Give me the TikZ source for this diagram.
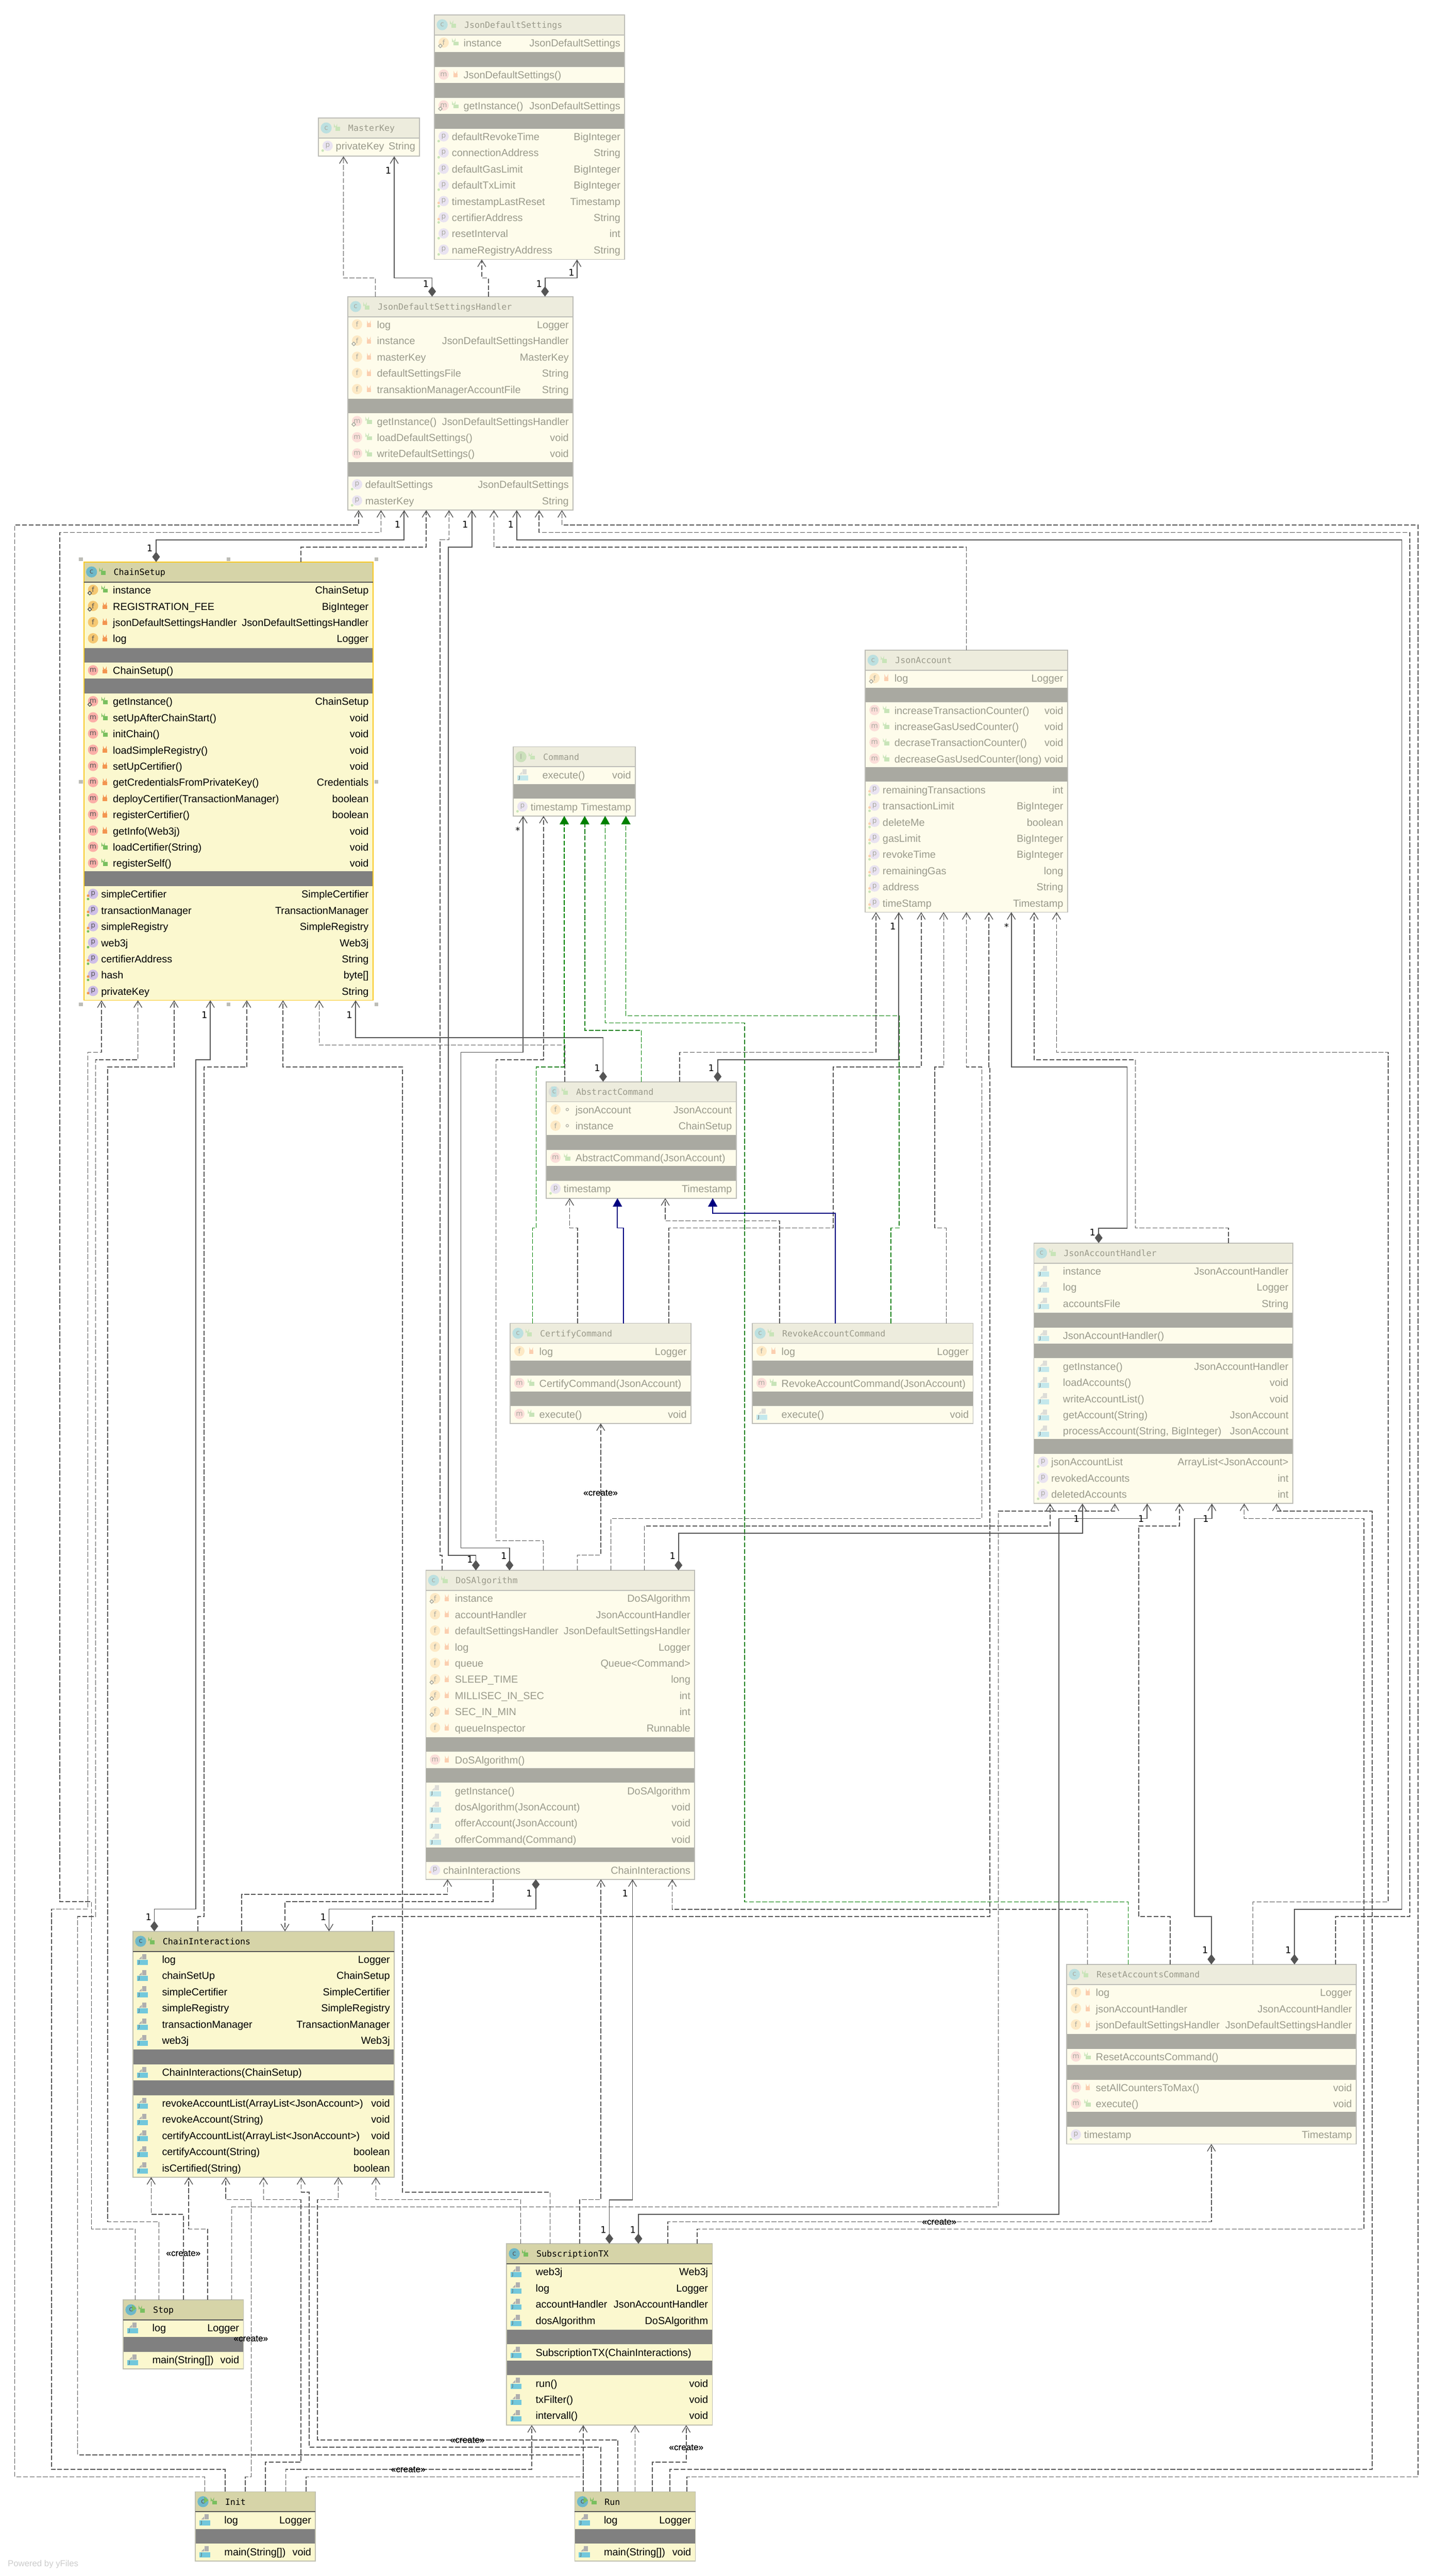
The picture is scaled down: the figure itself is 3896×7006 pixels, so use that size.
\documentclass[tikz,border=0pt]{standalone}
\usepackage{fontspec}
\setmainfont{Liberation Sans}
\newfontfamily\titlefont{DejaVu Sans Mono}
\newfontfamily\labelfont{DejaVu Sans}
\newfontfamily\createfont[FakeBold=0.4]{Liberation Sans}
\usetikzlibrary{arrows.meta}
\definecolor{fRow}{HTML}{FEFCEB}\definecolor{fHead}{HTML}{EDECDD}\definecolor{fSep}{HTML}{A9A9A1}\definecolor{fText}{HTML}{9A9A8B}\definecolor{fBorder}{HTML}{BDBDB7}\definecolor{fLine}{HTML}{BDBDB7}
\definecolor{fC}{HTML}{BCE0E0}\definecolor{fF}{HTML}{FDE9C5}\definecolor{fM}{HTML}{FBDED9}\definecolor{fP}{HTML}{E9E3F1}\definecolor{fI}{HTML}{CBE0BB}\definecolor{fOpen}{HTML}{C8E4B8}\definecolor{fLock}{HTML}{FBCFB0}\definecolor{fGlyph}{HTML}{AAAAA0}\definecolor{fJbar}{HTML}{C4E8EC}\definecolor{fJtop}{HTML}{DDDDD8}
\definecolor{uRow}{HTML}{FBF8CF}\definecolor{uHead}{HTML}{D6D4A8}\definecolor{uSep}{HTML}{808080}\definecolor{uText}{HTML}{000000}\definecolor{uBorder}{HTML}{BFBFAF}\definecolor{uLine}{HTML}{555555}
\definecolor{uC}{HTML}{6DB8C9}\definecolor{uF}{HTML}{F5C872}\definecolor{uM}{HTML}{FBAFA8}\definecolor{uP}{HTML}{CFBFE8}\definecolor{uI}{HTML}{A8D08D}\definecolor{uOpen}{HTML}{79BF5F}\definecolor{uLock}{HTML}{F39550}\definecolor{uGlyph}{HTML}{555555}\definecolor{uJbar}{HTML}{72C8DC}\definecolor{uJtop}{HTML}{AFAFAF}
\colorlet{sRow}{uRow}\colorlet{sHead}{uHead}\colorlet{sSep}{uSep}\colorlet{sText}{uText}\definecolor{sBorder}{HTML}{F9C81E}\colorlet{sLine}{uLine}\colorlet{sC}{uC}\colorlet{sF}{uF}\colorlet{sM}{uM}\colorlet{sP}{uP}\colorlet{sI}{uI}\colorlet{sOpen}{uOpen}\colorlet{sLock}{uLock}\colorlet{sGlyph}{uGlyph}\colorlet{sJbar}{uJbar}\colorlet{sJtop}{uJtop}
\definecolor{edgeGray}{HTML}{555555}\definecolor{realGreen}{HTML}{008000}\definecolor{genBlue}{HTML}{000080}
\newcommand\usecols[1]{\colorlet{cRow}{#1Row}\colorlet{cHead}{#1Head}\colorlet{cSep}{#1Sep}\colorlet{cText}{#1Text}\colorlet{cBorder}{#1Border}\colorlet{cLine}{#1Line}\colorlet{icc}{#1C}\colorlet{icf}{#1F}\colorlet{icm}{#1M}\colorlet{icp}{#1P}\colorlet{icI}{#1I}\colorlet{cOpen}{#1Open}\colorlet{cLock}{#1Lock}\colorlet{cGlyph}{#1Glyph}\colorlet{cJbar}{#1Jbar}\colorlet{cJtop}{#1Jtop}}
\newdimen\cy \newcount\nc
\makeatletter\def\yv{\strip@pt\cy}\makeatother
\tikzset{an/.code={\global\advance\nc by 1\relax\tikzset{name=n\the\nc}},
 classnode/.style={anchor=north west,draw=cBorder,fill=cRow,line width=2.5pt,inner sep=0pt,outer sep=0pt},
 rowtext/.style={an,inner sep=0pt,text=cText,font=\fontsize{27.8}{32}\selectfont},
 titletext/.style={an,inner sep=0pt,anchor=base west,text=cText,font=\titlefont\fontsize{23.3}{28}\selectfont},
 glyph/.style={an,inner sep=0pt,text=cGlyph,font=\labelfont\fontsize{19}{22}\selectfont},
 opentip/.style={-{Straight Barb[length=18pt,width=22pt,line width=2pt]}},
 dep/.style={line width=2.2pt,draw=edgeGray,dash pattern=on 13pt off 5pt,opentip},
 comp/.style={line width=2.5pt,draw=edgeGray,{Diamond[length=28pt,width=21pt,fill=edgeGray]}-{Straight Barb[length=18pt,width=22pt,line width=2pt]}},
 real/.style={line width=2.2pt,draw=realGreen,dash pattern=on 13pt off 5pt,-{Triangle[length=23pt,width=25pt,fill=realGreen]}},
 gen/.style={line width=2.2pt,draw=genBlue,-{Triangle[length=23pt,width=25pt,fill=genBlue]}},
 lab/.style={an,inner sep=0pt,text=black,font=\labelfont\fontsize{25}{28}\selectfont},
 crt/.style={an,inner sep=0pt,text=black,font=\createfont\fontsize{24}{28}\selectfont}}
\newcommand\ptN[2]{(#1,0 |- #2.north)}
\newcommand\ptS[2]{(#1,0 |- #2.south)}
% icons
\newcommand\lockic[3]{% vis x y
 \if#1o\fill[cOpen] ({#2-5},{#3-3}) rectangle ({#2+8},{#3+8});\draw[cOpen,line width=2pt] ({#2-8},{#3-1}) -- ({#2-8},{#3-7}) arc[start angle=180,end angle=0,radius=3.5] -- ({#2-1},{#3-4});\fi
 \if#1l\fill[cLock] ({#2-6},{#3-2}) rectangle ({#2+6},{#3+8});\draw[cLock,line width=2pt] ({#2-4},{#3-2}) -- ({#2-4},{#3-6}) arc[start angle=180,end angle=0,radius=4] -- ({#2+4},{#3-2});\fi
 \if#1d\draw[cGlyph,line width=1.6pt] (#2,#3) circle[radius=3.5];\fi}
\newcommand\jic[2]{% x y
 \fill[cJbar] ({#1-15},{#2+2}) rectangle ({#1+15},{#2+16});
 \fill[cJtop] ({#1-1},{#2-14}) rectangle ({#1+10},{#2});
 \fill[cJtop] ({#1-10},{#2}) -- ({#1-2},{#2-8}) -- ({#1-2},{#2}) -- cycle;
 \node[an,inner sep=0pt,text=uGlyph,font=\labelfont\fontsize{12}{14}\selectfont] at ({#1-9},{#2+9}) {J};}
\newcommand\rowx[5]{%
 \def\rc{\yv+21}\def\nx{79}%
 \if#1J\jic{\cL+26}{\yv+21}\else
  \fill[ic#1] ({\cL+25},{\rc}) circle[radius=14];
  \node[glyph] at ({\cL+25},{\rc}) {#1};
  \if#1p\def\nx{47}\else\lockic{#2}{\cL+57}{\rc}\fi
 \fi
 \if#3s\draw[cGlyph,line width=2pt,fill=cRow] ({\cL+16},{\rc+4}) -- ({\cL+21},{\rc+9}) -- ({\cL+16},{\rc+14}) -- ({\cL+11},{\rc+9}) -- cycle;\fi
 \if#3g\fill[cOpen] ({\cL+11.5},{\rc+13}) circle[radius=3.5];\fi
 \if#3r\fill[cLock] ({\cL+11.5},{\rc+6}) circle[radius=3.5];\fi
 \if#3b\fill[cLock] ({\cL+11.5},{\rc+5}) circle[radius=3.5];\fill[cOpen] ({\cL+11.5},{\rc+14}) circle[radius=3.5];\fi
 \node[rowtext,anchor=base west] at ({\cL+\nx},{\yv+32}) {#4};
 \node[rowtext,anchor=base east] at ({\cR-11.5},{\yv+32}) {#5};
 \global\advance\cy by 44pt\relax}
\newcommand\sep[1]{\global\advance\cy by #1pt\relax
 \fill[cSep] ({\cL+1.25},{\yv}) rectangle ({\cR-1.25},{\yv+40});
 \global\advance\cy by 40pt\relax}
\newcommand\classbox[8]{% name L R T B colors kind title
 \def\cL{#2}\def\cR{#3}\usecols{#6}%
 \global\cy=#4pt\relax
 \node[classnode,minimum width={#3-#2},minimum height={#5-#4}] (#1) at (#2,#4) {};
 \fill[cHead] ({#2+1.25},{#4+1.25}) rectangle ({#3-1.25},{#4+54.5});
 \draw[cLine,line width=2.5pt] (#2,{#4+54.5}) -- (#3,{#4+54.5});
 \if#7a\fill[cJtop] ({#2+21},{#4+27}) circle[radius=15];\fill[icc] ({#2+14},{#4+13}) rectangle ({#2+28},{#4+41});
 \else\if#7I\fill[icI] ({#2+21},{#4+27}) circle[radius=15];\else\fill[icc] ({#2+21},{#4+27}) circle[radius=15];\fi\fi
 \if#7r\fill[uOpen] ({#2+24},{#4+14}) -- ({#2+36},{#4+23}) -- ({#2+24},{#4+32}) -- cycle;\fi
 \node[glyph] at ({#2+21},{#4+27}) {\if#7II\else c\fi};
 \lockic{o}{#2+51}{#4+27}
 \node[titletext] at ({#2+81},{#4+36}) {#8};
 \global\advance\cy by 54.5pt\relax}
\begin{document}
\begin{tikzpicture}[x=1pt,y=-1pt]
\useasboundingbox[fill=white] (0,0) rectangle (3896,7006);
% ---------- classes
\classbox{MK}{866}{1141}{321}{425}{f}{c}{MasterKey}
\rowx pog{privateKey}{String}
\classbox{JDS}{1181.4}{1698.6}{40.3}{705.6}{f}{c}{JsonDefaultSettings}
\rowx fos{instance}{JsonDefaultSettings}\sep{3}
\rowx mln{JsonDefaultSettings()}{}\sep{0}
\rowx mos{getInstance()}{JsonDefaultSettings}\sep{0}
\rowx png{defaultRevokeTime}{BigInteger}
\rowx png{connectionAddress}{String}
\rowx png{defaultGasLimit}{BigInteger}
\rowx png{defaultTxLimit}{BigInteger}
\rowx pnb{timestampLastReset}{Timestamp}
\rowx pnb{certifierAddress}{String}
\rowx png{resetInterval}{int}
\rowx png{nameRegistryAddress}{String}
\classbox{JDSH}{946}{1558.3}{806.7}{1387.3}{f}{c}{JsonDefaultSettingsHandler}
\rowx fln{log}{Logger}
\rowx fls{instance}{JsonDefaultSettingsHandler}
\rowx fln{masterKey}{MasterKey}
\rowx fln{defaultSettingsFile}{String}
\rowx fln{transaktionManagerAccountFile}{String}\sep{3}
\rowx mos{getInstance()}{JsonDefaultSettingsHandler}
\rowx mon{loadDefaultSettings()}{void}
\rowx mon{writeDefaultSettings()}{void}\sep{0}
\rowx png{defaultSettings}{JsonDefaultSettings}
\rowx png{masterKey}{String}
\classbox{CS}{228}{1014}{1528.5}{2720.4}{s}{c}{ChainSetup}
\rowx fos{instance}{ChainSetup}
\rowx fls{REGISTRATION\_FEE}{BigInteger}
\rowx fln{jsonDefaultSettingsHandler}{JsonDefaultSettingsHandler}
\rowx fln{log}{Logger}\sep{3}
\rowx mln{ChainSetup()}{}\sep{0}
\rowx mos{getInstance()}{ChainSetup}
\rowx mon{setUpAfterChainStart()}{void}
\rowx mon{initChain()}{void}
\rowx mln{loadSimpleRegistry()}{void}
\rowx mln{setUpCertifier()}{void}
\rowx mln{getCredentialsFromPrivateKey()}{Credentials}
\rowx mln{deployCertifier(TransactionManager)}{boolean}
\rowx mln{registerCertifier()}{boolean}
\rowx mln{getInfo(Web3j)}{void}
\rowx mon{loadCertifier(String)}{void}
\rowx mon{registerSelf()}{void}\sep{0}
\rowx pnb{simpleCertifier}{SimpleCertifier}
\rowx pnb{transactionManager}{TransactionManager}
\rowx pnb{simpleRegistry}{SimpleRegistry}
\rowx png{web3j}{Web3j}
\rowx pnb{certifierAddress}{String}
\rowx pnb{hash}{byte[]}
\rowx pnr{privateKey}{String}
\foreach \hx/\hy in {220/1521,622/1521,1024/1521,220/2126,1024/2126,220/2731,622/2731,1024/2731}{\fill[fBorder] ({\hx-5},{\hy-5}) rectangle ({\hx+5},{\hy+5});}
\classbox{Cmd}{1395.7}{1727.6}{2031}{2219}{f}{I}{Command}
\rowx Jnn{execute()}{void}\sep{3}
\rowx png{timestamp}{Timestamp}
\classbox{JA}{2353}{2903}{1768.6}{2480.7}{f}{c}{JsonAccount}
\rowx fls{log}{Logger}\sep{3}
\rowx mon{increaseTransactionCounter()}{void}
\rowx mon{increaseGasUsedCounter()}{void}
\rowx mon{decraseTransactionCounter()}{void}
\rowx mon{decreaseGasUsedCounter(long)}{void}\sep{0}
\rowx pnb{remainingTransactions}{int}
\rowx pnb{transactionLimit}{BigInteger}
\rowx pnb{deleteMe}{boolean}
\rowx pnb{gasLimit}{BigInteger}
\rowx pnb{revokeTime}{BigInteger}
\rowx pnb{remainingGas}{long}
\rowx pnb{address}{String}
\rowx pnb{timeStamp}{Timestamp}
\classbox{AC}{1485.6}{2002}{2942}{3258.6}{f}{a}{AbstractCommand}
\rowx fdn{jsonAccount}{JsonAccount}
\rowx fdn{instance}{ChainSetup}\sep{3}
\rowx mon{AbstractCommand(JsonAccount)}{}\sep{0}
\rowx png{timestamp}{Timestamp}
\classbox{CC}{1387.4}{1879}{3599}{3871}{f}{c}{CertifyCommand}
\rowx fln{log}{Logger}\sep{3}
\rowx mon{CertifyCommand(JsonAccount)}{}\sep{0}
\rowx mon{execute()}{void}
\classbox{RAC}{2046}{2646}{3599}{3871}{f}{c}{RevokeAccountCommand}
\rowx fln{log}{Logger}\sep{3}
\rowx mon{RevokeAccountCommand(JsonAccount)}{}\sep{0}
\rowx Jnn{execute()}{void}
\classbox{JAH}{2811.4}{3515.4}{3380.7}{4089}{f}{c}{JsonAccountHandler}
\rowx Jnn{instance}{JsonAccountHandler}
\rowx Jnn{log}{Logger}
\rowx Jnn{accountsFile}{String}\sep{3}
\rowx Jnn{JsonAccountHandler()}{}\sep{0}
\rowx Jnn{getInstance()}{JsonAccountHandler}
\rowx Jnn{loadAccounts()}{void}
\rowx Jnn{writeAccountList()}{void}
\rowx Jnn{getAccount(String)}{JsonAccount}
\rowx Jnn{processAccount(String, BigInteger)}{JsonAccount}\sep{0}
\rowx png{jsonAccountList}{ArrayList<JsonAccount>}
\rowx png{revokedAccounts}{int}
\rowx png{deletedAccounts}{int}
\classbox{DoS}{1158}{1889}{4271}{5111}{f}{c}{DoSAlgorithm}
\rowx fls{instance}{DoSAlgorithm}
\rowx fln{accountHandler}{JsonAccountHandler}
\rowx fln{defaultSettingsHandler}{JsonDefaultSettingsHandler}
\rowx fln{log}{Logger}
\rowx fln{queue}{Queue<Command>}
\rowx fls{SLEEP\_TIME}{long}
\rowx fls{MILLISEC\_IN\_SEC}{int}
\rowx fls{SEC\_IN\_MIN}{int}
\rowx fln{queueInspector}{Runnable}\sep{3}
\rowx mln{DoSAlgorithm()}{}\sep{0}
\rowx Jnn{getInstance()}{DoSAlgorithm}
\rowx Jnn{dosAlgorithm(JsonAccount)}{void}
\rowx Jnn{offerAccount(JsonAccount)}{void}
\rowx Jnn{offerCommand(Command)}{void}\sep{0}
\rowx pnr{chainInteractions}{ChainInteractions}
\classbox{CI}{361.5}{1072}{5252.7}{5921}{u}{c}{ChainInteractions}
\rowx Jnn{log}{Logger}
\rowx Jnn{chainSetUp}{ChainSetup}
\rowx Jnn{simpleCertifier}{SimpleCertifier}
\rowx Jnn{simpleRegistry}{SimpleRegistry}
\rowx Jnn{transactionManager}{TransactionManager}
\rowx Jnn{web3j}{Web3j}\sep{3}
\rowx Jnn{ChainInteractions(ChainSetup)}{}\sep{0}
\rowx Jnn{revokeAccountList(ArrayList<JsonAccount>)}{void}
\rowx Jnn{revokeAccount(String)}{void}
\rowx Jnn{certifyAccountList(ArrayList<JsonAccount>)}{void}
\rowx Jnn{certifyAccount(String)}{boolean}
\rowx Jnn{isCertified(String)}{boolean}
\classbox{Stop}{335}{662}{6254.8}{6443}{u}{r}{Stop}
\rowx Jnn{log}{Logger}\sep{3}
\rowx Jnn{main(String[])}{void}
\classbox{Init}{531}{858}{6776.8}{6965}{u}{r}{Init}
\rowx Jnn{log}{Logger}\sep{3}
\rowx Jnn{main(String[])}{void}
\classbox{Run}{1563}{1891}{6776.8}{6965}{u}{r}{Run}
\rowx Jnn{log}{Logger}\sep{3}
\rowx Jnn{main(String[])}{void}
\classbox{Sub}{1377.5}{1937}{6102.4}{6595.5}{u}{c}{SubscriptionTX}
\rowx Jnn{web3j}{Web3j}
\rowx Jnn{log}{Logger}
\rowx Jnn{accountHandler}{JsonAccountHandler}
\rowx Jnn{dosAlgorithm}{DoSAlgorithm}\sep{3}
\rowx Jnn{SubscriptionTX(ChainInteractions)}{}\sep{0}
\rowx Jnn{run()}{void}
\rowx Jnn{txFilter()}{void}
\rowx Jnn{intervall()}{void}
\classbox{RC}{2900.7}{3688}{5342.6}{5831}{f}{c}{ResetAccountsCommand}
\rowx fln{log}{Logger}
\rowx fln{jsonAccountHandler}{JsonAccountHandler}
\rowx fln{jsonDefaultSettingsHandler}{JsonDefaultSettingsHandler}\sep{3}
\rowx mon{ResetAccountsCommand()}{}\sep{0}
\rowx mln{setAllCountersToMax()}{void}
\rowx mon{execute()}{void}\sep{0}
\rowx png{timestamp}{Timestamp}
% ---------- connectors
\draw[dep] \ptN{1021}{JDSH} |- (934,756) -- \ptS{934}{MK};
\draw[comp] \ptN{1175}{JDSH} |- (1072,756) -- \ptS{1072}{MK};
\draw[dep] \ptN{1328}{JDSH} |- (1310,756) -- \ptS{1310}{JDS};
\draw[comp] \ptN{1482}{JDSH} |- (1569,756) -- \ptS{1569}{JDS};
\draw[dep] \ptN{557}{Init} |- (40,6736) |- (975,1428) -- \ptS{975}{JDSH};
\draw[dep] \ptN{368}{Stop} |- (249,6062) |- (162.5,5172) |- (1036,1448) -- \ptS{1036}{JDSH};
\draw[comp] \ptN{424.5}{CS} |- (1099,1468) -- \ptS{1099}{JDSH};
\draw[dep] \ptN{818.4}{CS} |- (1159,1488) -- \ptS{1159}{JDSH};
\draw[dep] \ptN{1202}{DoS} |- (1197,4230) |- (1221,1468) -- \ptS{1221}{JDSH};
\draw[comp] \ptN{1294}{DoS} |- (1219,4230) |- (1283,1488) -- \ptS{1283}{JDSH};
\draw[dep] \ptN{2628}{JA} |- (1343,1488) -- \ptS{1343}{JDSH};
\draw[comp] \ptN{3520}{RC} |- (3812,5192.6) |- (1405,1468) -- \ptS{1405}{JDSH};
\draw[dep] \ptN{3632}{RC} |- (3834,5212.5) |- (1466,1448) -- \ptS{1466}{JDSH};
\draw[dep] \ptN{1867.5}{Run} |- (3856,6736) |- (1528,1428) -- \ptS{1528}{JDSH};
\draw[dep] \ptN{612}{Init} |- (140,6716) |- (239,5192) |- (276,2862) -- \ptS{276}{CS};
\draw[dep] \ptN{1586}{Run} |- (211,6676.6) |- (260,5212.5) |- (375,2882) -- \ptS{375}{CS};
\draw[dep] \ptN{432.5}{Stop} |- (293,6042.5) |- (473.5,2902) -- \ptS{473.5}{CS};
\draw[comp] \ptN{419.6}{CI} |- (532,5192) |- (572,2882) -- \ptS{572}{CS};
\draw[dep] \ptN{538}{CI} |- (555,5212.5) |- (671,2902) -- \ptS{671}{CS};
\draw[dep] \ptN{1496}{Sub} |- (1094.5,5962) |- (769.5,2902) -- \ptS{769.5}{CS};
\draw[dep] \ptN{1536}{AC} |- (868,2842.5) -- \ptS{868}{CS};
\draw[comp] \ptN{1640}{AC} |- (967,2822) -- \ptS{967}{CS};
\draw[comp] \ptN{1385.5}{DoS} |- (1253.5,4210) |- (1422.5,2862) -- \ptS{1422.5}{Cmd};
\draw[dep] \ptN{1477.5}{DoS} |- (1348.5,4190) |- (1478,2882) -- \ptS{1478}{Cmd};
\draw[real] \ptN{1448}{CC} |- (1458,3340) |- (1534.4,2902) -- \ptS{1534.4}{Cmd};
\draw[real] \ptN{1744}{AC} |- (1590,2802) -- \ptS{1590}{Cmd};
\draw[real] \ptN{3068}{RC} |- (2024.5,5172.7) |- (1645.5,2782) -- \ptS{1645.5}{Cmd};
\draw[real] \ptN{2422.5}{RAC} |- (2445,3340) |- (1702,2762.7) -- \ptS{1702}{Cmd};
\draw[dep] \ptN{1848}{AC} |- (2382,2862) -- \ptS{2382}{JA};
\draw[comp] \ptN{1951.5}{AC} |- (2444,2882.6) -- \ptS{2444}{JA};
\draw[dep] \ptN{1819}{CC} |- (2266,3340) |- (2505,2902) -- \ptS{2505}{JA};
\draw[dep] \ptN{2573}{RAC} |- (2542,3340) |- (2566,2902) -- \ptS{2566}{JA};
\draw[dep] \ptN{1661}{DoS} |- (2670,4130) |- (2628,2902) -- \ptS{2628}{JA};
\draw[dep] \ptN{1013}{CI} |- (2692,5212.5) |- (2689,2902) -- \ptS{2689}{JA};
\draw[comp] \ptN{2987.6}{JAH} |- (3065,3340) |- (2750,2902) -- \ptS{2750}{JA};
\draw[dep] \ptN{3340.7}{JAH} |- (3087.5,3340) |- (2812,2882.6) -- \ptS{2812}{JA};
\draw[dep] \ptN{3407}{RC} |- (3775,5172.7) |- (2873,2862) -- \ptS{2873}{JA};
\draw[dep] \ptN{1571}{CC} |- (1549,3340) -- \ptS{1549}{AC};
\draw[gen] \ptN{1695.5}{CC} |- (1679,3340) -- \ptS{1679}{AC};
\draw[dep] \ptN{2120}{RAC} |- (1809,3320) -- \ptS{1809}{AC};
\draw[gen] \ptN{2271.5}{RAC} |- (1938,3300) -- \ptS{1938}{AC};
\draw[dep] \ptN{1570}{DoS} |- (1633.5,4229.6) -- \ptS{1633.5}{CC};
\draw[dep] \ptN{657.5}{CI} |- (1217,5151.8) -- \ptS{1217}{DoS};
\draw[dep] \ptS{1341}{DoS} |- (775,5172) -- \ptN{775}{CI};
\draw[comp] \ptS{1457}{DoS} |- (894.7,5192) -- \ptN{894.7}{CI};
\draw[dep] \ptN{2957}{RC} |- (1828,5192.6) -- \ptS{1828}{DoS};
\draw[dep] \ptN{1576.5}{Sub} |- (1634,5982.5) -- \ptS{1634}{DoS};
\draw[comp] \ptN{1657}{Sub} |- (1720,5982.5) -- \ptS{1720}{DoS};
\draw[dep] \ptN{498.5}{Stop} |- (411,6022) -- \ptS{411}{CI};
\draw[dep] \ptN{564.5}{Stop} |- (513,6062) -- \ptS{513}{CI};
\draw[dep] \ptN{667}{Init} |- (683,6736) |- (614,5982.5) -- \ptS{614}{CI};
\draw[dep] \ptN{722}{Init} |- (818,6696) |- (716.5,5982.5) -- \ptS{716.5}{CI};
\draw[dep] \ptN{1634}{Run} |- (841,6656) |- (819,5962) -- \ptS{819}{CI};
\draw[dep] \ptN{1680}{Run} |- (863,6636) |- (920,5982.5) -- \ptS{920}{CI};
\draw[dep] \ptN{1416}{Sub} |- (1022,5982.5) -- \ptS{1022}{CI};
\draw[dep] \ptN{777}{Init} |- (1446,6716) -- \ptS{1446}{Sub};
\draw[dep] \ptN{832}{Init} |- (1586,6736) -- \ptS{1586}{Sub};
\draw[dep] \ptN{1726.7}{Run} -- \ptS{1726.7}{Sub};
\draw[dep] \ptN{1773.5}{Run} |- (1866,6696) -- \ptS{1866}{Sub};
\draw[dep] \ptN{1816}{Sub} |- (3294,6042.5) -- \ptS{3294}{RC};
% connectors into JsonAccountHandler
\draw[dep] \ptN{1752}{DoS} |- (2855.4,4150) -- \ptS{2855.4}{JAH};
\draw[comp] \ptN{1845}{DoS} |- (2943.4,4170) -- \ptS{2943.4}{JAH};
\draw[dep] \ptN{629.6}{Stop} |- (2715,6002) |- (3031.4,4110) -- \ptS{3031.4}{JAH};
\draw[comp] \ptN{1736}{Sub} |- (2879,6022) |- (3119.4,4130) -- \ptS{3119.4}{JAH};
\draw[dep] \ptN{3182}{RC} |- (3096.6,5212.5) |- (3207.4,4150) -- \ptS{3207.4}{JAH};
\draw[comp] \ptN{3294}{RC} |- (3248,5212.5) |- (3295.4,4130) -- \ptS{3295.4}{JAH};
\draw[dep] \ptN{1896}{Sub} |- (3709,6062) |- (3383.4,4130) -- \ptS{3383.4}{JAH};
\draw[dep] \ptN{1821.5}{Run} |- (3731.6,6716) |- (3471.4,4110) -- \ptS{3471.4}{JAH};
% ---------- labels
\foreach \lx/\ly in {1056/464,1158/772,1554/741,1466/772,1081/1426,407/1491,1265/1427,1278/4241,1389/1426,3503/5304,1370/4232,556/2760,404/5214,950/2760,1624/2904,2428/2520,1934/2904,2971/3351,1829/4232,3277/5304,879/5214,1439/5150,1641/6064,1700/5150,1721/6064,2927/4130,3103/4130,3279/4130}{\node[lab] at (\lx,\ly) {1};}
\node[lab] at (1408,2258) {*};
\node[lab] at (2737,2521) {*};
\foreach \lx/\ly in {1633/4060,498.5/6128,682/6360,1271/6636,1110/6716,1866/6656,2554/6042.5}{\node[crt] at (\lx,\ly) {«create»};}
\node[an,anchor=west,inner sep=0pt,text=black!20,font=\fontsize{23.5}{28}\selectfont] at (21,6974) {Powered by yFiles};
\end{tikzpicture}
\end{document}
